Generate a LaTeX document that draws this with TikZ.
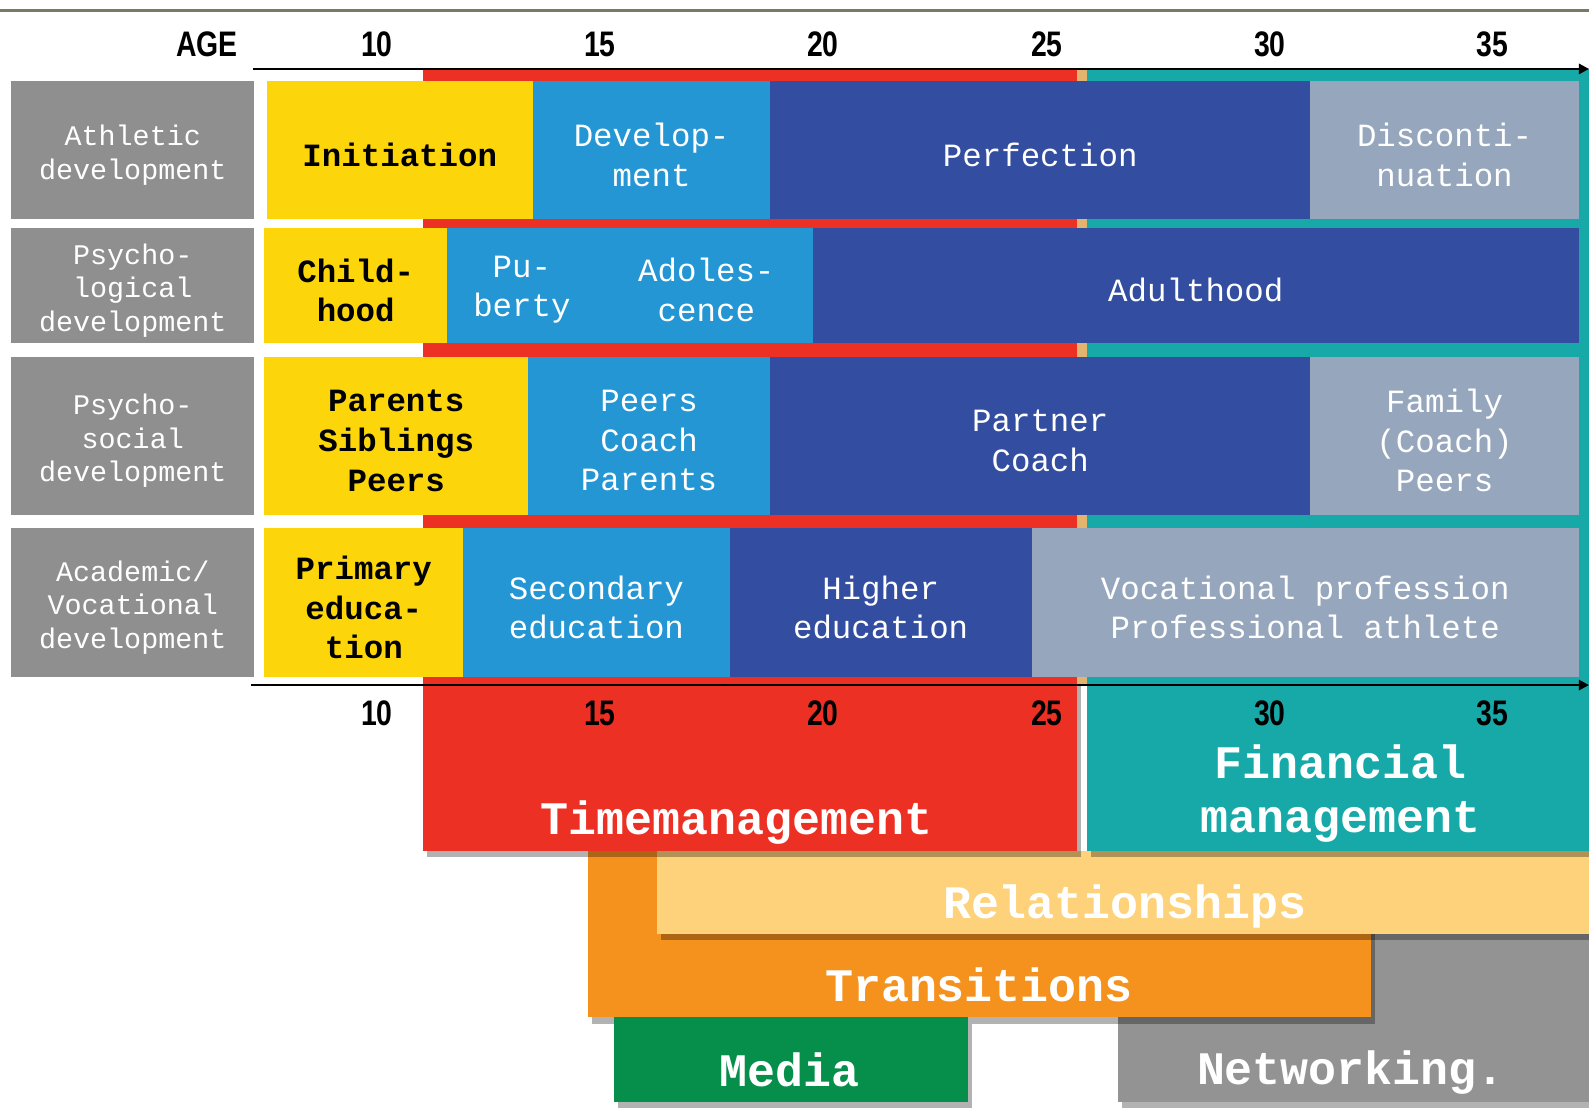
\documentclass[tikz,border=0pt]{standalone}
\usepackage{fontspec}
\setmainfont{Liberation Mono}
\setmonofont{Liberation Mono}
\newfontfamily\agefont[FakeStretch=0.8]{Liberation Sans}
\usetikzlibrary{arrows.meta,shadows}
\definecolor{cyel}{HTML}{FCD60A}
\definecolor{cblue}{HTML}{2596D4}
\definecolor{cdark}{HTML}{334EA0}
\definecolor{cgblue}{HTML}{96A6BC}
\definecolor{clab}{HTML}{8F8F8F}
\definecolor{cred}{HTML}{EC3124}
\definecolor{cteal}{HTML}{17A8A8}
\definecolor{corange}{HTML}{F5921E}
\definecolor{clight}{HTML}{FDD27A}
\definecolor{cgreen}{HTML}{068F4B}
\definecolor{cnet}{HTML}{939393}
\definecolor{ctop}{HTML}{7A7A62}
\definecolor{ctan}{HTML}{E2B46E}
% name, x1, y1, x2, y2, box style, text style, text
\newcommand\cellbox[8]{%
  \pgfmathsetmacro\cx{(#2+#4)/2}\pgfmathsetmacro\cy{(#3+#5)/2}%
  \pgfmathsetmacro\cw{(#4-#2)*0.5}\pgfmathsetmacro\ch{(#5-#3)*0.5}%
  \node[#6, minimum width=\cw pt, minimum height=\ch pt,
        label={[#7, yshift=-2.5pt]center:#8}] (#1) at (\cx,\cy) {};}
\tikzset{
  plain/.style={rectangle, inner sep=0pt, outer sep=0pt, draw=none},
  tw/.style={text=white, align=center, inner sep=0pt, font=\fontsize{16}{19.5}\selectfont},
  tk/.style={text=black, align=center, inner sep=0pt, font=\fontsize{16}{19.5}\selectfont\bfseries},
  tl/.style={text=white, align=center, inner sep=0pt, font=\fontsize{14}{16.5}\selectfont},
  big/.style={text=white, align=center, font=\fontsize{23}{27}\selectfont\bfseries, inner sep=0pt},
  num/.style={font=\agefont\bfseries\fontsize{17.5}{18}\selectfont, inner sep=0pt},
  band/.style={plain, drop shadow={shadow xshift=2pt, shadow yshift=-3pt, opacity=0.3, fill=black}},
  axis/.style={line width=1.2pt, -{Triangle[length=5pt,width=5pt]}},
}
\begin{document}
\begin{tikzpicture}[x=0.5pt, y=-0.5pt]
\useasboundingbox (0,0) rectangle (1568,1094);
% top rule
\coordinate (tl) at (0,10); \coordinate (tr) at (1568,10);
\draw[ctop, line width=1.6pt] (tl) -- (tr);
% lower boxes
\cellbox{net}{1103}{922}{1580}{1087}{band, fill=cnet}{big}{}
\cellbox{trans}{580}{840}{1353}{1004}{band, fill=corange}{big}{}
\cellbox{rel}{648}{840}{1580}{922}{band, fill=clight}{big}{}
\cellbox{media}{606}{1004}{955}{1087}{band, fill=cgreen}{big}{}
% red and teal bands
\cellbox{time}{417}{68}{1063}{840}{band, fill=cred}{big}{}
\cellbox{fin}{1073}{68}{1580}{840}{band, fill=cteal}{big}{}
\cellbox{tan}{1063}{68}{1073}{676}{plain, fill=ctan}{big}{}
% big labels
\node[big] (ttime) at (727,812) {Timemanagement};
\node[big] (tfin) at (1323,783) {Financial\\management};
\node[big] (trel) at (1110,894) {Relationships};
\node[big] (ttrans) at (966,972) {Transitions};
\node[big] (tmedia) at (779,1056) {Media};
\node[big] (tnet) at (1333,1058) {Networking.};
% axes
\coordinate (a1s) at (250,68); \coordinate (a1e) at (1568,68);
\draw[axis] (a1s) -- (a1e);
\coordinate (a2s) at (248,676); \coordinate (a2e) at (1568,676);
\draw[axis] (a2s) -- (a2e);
% age labels
\node[num, anchor=east] (age) at (235,44) {AGE};
\foreach \a/\xx in {10/372,15/592,20/812,25/1033,30/1253,35/1473}{
  \node[num] (top\a) at (\xx,44) {\a};
  \node[num] (bot\a) at (\xx,704) {\a};
}
% row 1
\cellbox{l1}{11}{80}{251}{216}{plain, fill=clab}{tl}{Athletic\\development}
\cellbox{r1a}{263}{80}{526}{216}{plain, fill=cyel}{tk}{Initiation}
\cellbox{r1b}{526}{80}{760}{216}{plain, fill=cblue}{tw}{Develop-\\ment}
\cellbox{r1c}{760}{80}{1293}{216}{plain, fill=cdark}{tw}{Perfection}
\cellbox{r1d}{1293}{80}{1558}{216}{plain, fill=cgblue}{tw}{Disconti-\\nuation}
% row 2
\cellbox{l2}{11}{225}{251}{338}{plain, fill=clab}{tl}{Psycho-\\logical\\development}
\cellbox{r2a}{261}{225}{441}{338}{plain, fill=cyel}{tk}{Child-\\hood}
\cellbox{r2b}{441}{225}{802}{338}{plain, fill=cblue}{tw}{}
\node[tw] (pub) at (515,286) {Pu-\\berty};
\node[tw] (ado) at (697,286) {Adoles-\\cence};
\cellbox{r2c}{802}{225}{1558}{338}{plain, fill=cdark}{tw}{Adulthood}
% row 3
\cellbox{l3}{11}{352}{251}{508}{plain, fill=clab}{tl}{Psycho-\\social\\development}
\cellbox{r3a}{261}{352}{521}{508}{plain, fill=cyel}{tk}{Parents\\Siblings\\Peers}
\cellbox{r3b}{521}{352}{760}{508}{plain, fill=cblue}{tw}{Peers\\Coach\\Parents}
\cellbox{r3c}{760}{352}{1293}{508}{plain, fill=cdark}{tw}{Partner\\Coach}
\cellbox{r3d}{1293}{352}{1558}{508}{plain, fill=cgblue}{tw}{Family\\(Coach)\\Peers}
% row 4
\cellbox{l4}{11}{521}{251}{668}{plain, fill=clab}{tl}{Academic/\\Vocational\\development}
\cellbox{r4a}{261}{521}{457}{668}{plain, fill=cyel}{tk}{Primary\\educa-\\tion}
\cellbox{r4b}{457}{521}{720}{668}{plain, fill=cblue}{tw}{Secondary\\education}
\cellbox{r4c}{720}{521}{1018}{668}{plain, fill=cdark}{tw}{Higher\\education}
\cellbox{r4d}{1018}{521}{1558}{668}{plain, fill=cgblue}{tw}{Vocational profession\\Professional athlete}
\end{tikzpicture}
\end{document}
